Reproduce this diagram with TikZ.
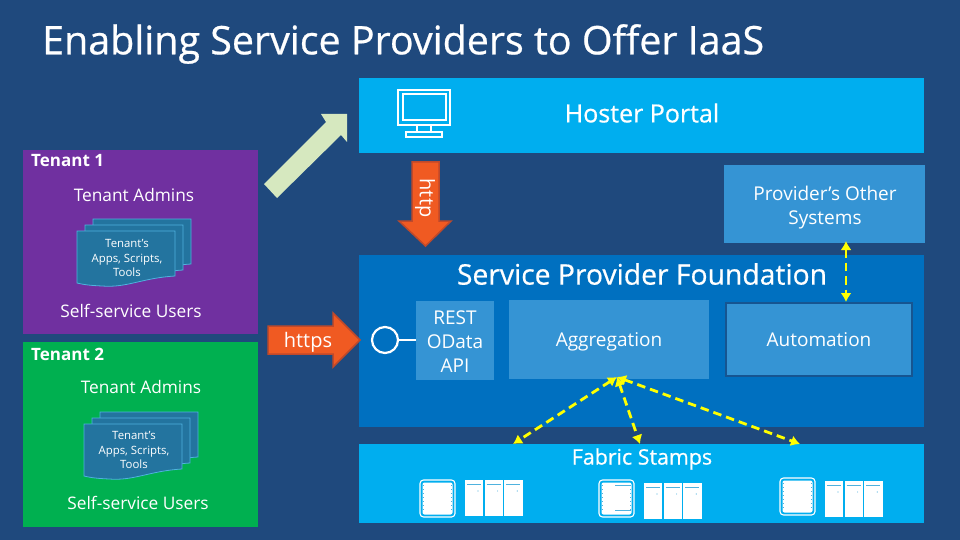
\documentclass[tikz,border=0pt]{standalone}
\usepackage{fontspec}
\setmainfont{Open Sans}
\newfontfamily\headfont[FakeBold=0.6]{Open Sans}
\usetikzlibrary{arrows.meta}

\definecolor{slidebg}{HTML}{1F497D}
\definecolor{skyband}{HTML}{00AEEF}
\definecolor{midband}{HTML}{0070C0}
\definecolor{softbox}{HTML}{3594D4}
\definecolor{purplebox}{HTML}{7030A0}
\definecolor{greenbox}{HTML}{00B050}
\definecolor{docfill}{HTML}{23749F}
\definecolor{docline}{HTML}{4FB2DE}
\definecolor{orangearrow}{HTML}{F05A22}
\definecolor{orangeline}{HTML}{C0492A}
\definecolor{palegreen}{HTML}{D6E8BF}
\definecolor{dashyellow}{HTML}{FFFF00}

\tikzset{
  band/.style={anchor=north west,inner sep=0pt,outer sep=0pt},
  tenanttext/.style={text=white,align=center,inner sep=0pt,font=\fontsize{17.3}{21}\selectfont},
  boxtext/.style={text=white,align=center,inner sep=0pt,font=\fontsize{19}{24}\selectfont},
  smalltext/.style={text=white,align=center,inner sep=0pt,font=\fontsize{11.4}{14.5}\selectfont},
  heading/.style={text=white,inner sep=0pt,font=\headfont\fontsize{25}{30}\selectfont},
  tenanthead/.style={text=white,anchor=west,inner sep=0pt,font=\fontsize{17}{20}\bfseries\selectfont},
  yellowlink/.style={draw=dashyellow,line width=2.8pt,dash pattern=on 8.5pt off 5pt,
    {Latex[length=9pt,width=11pt]}-{Latex[length=9pt,width=11pt]}},
  docpage/.style={fill=docfill,draw=docline,line width=0.8pt},
  blockarrow/.style={draw=orangeline,fill=orangearrow,line width=1.5pt},
  iconline/.style={draw=white,line width=1.3pt}
}

% one sheet of the stacked documents, corner at top left
\newcommand{\docsheet}[2]{
  \begin{scope}[shift={(#1,#2)}]
    \draw[docpage] (0,0) -- (98,0) -- (98,45)
      .. controls (65,47) and (50,57) .. (25,55)
      .. controls (15,54.5) and (8,54) .. (0,52) -- cycle;
  \end{scope}
}

% a rack icon and three server units: x, y of the rack, y of the units
\newcommand{\rackgroup}[3]{
  \begin{scope}[shift={(#1,#2)}]
    \draw[white,line width=1.1pt,rounded corners=3.5pt] (0,0) rectangle (35,37);
    \fill[white,rounded corners=2pt] (2.5,2.5) rectangle (32.5,34.5);
    \draw[docline,line width=0.6pt,dash pattern=on 1pt off 3pt] (3.5,5) -- (3.5,32) (31.5,5) -- (31.5,32);
  \end{scope}
  \foreach \unit in {0,1,2}{
    \fill[white] (#1+45+\unit*19.6,#3) rectangle +(18.4,36);
    \draw[docline,line width=0.8pt] (#1+47+\unit*19.6,#3+4) -- +(14,0);
    \fill[docline] (#1+58+\unit*19.6,#3+11) circle (0.6);
  }
}

\begin{document}
\begin{tikzpicture}[x=1pt,y=-1pt]
  \useasboundingbox (0,0) rectangle (960,540);
  \fill[slidebg] (0,0) rectangle (960,540);

  \node[text=white,anchor=west,inner sep=0pt,font=\headfont\fontsize{39.4}{44}\selectfont] (title)
    at (42,44) {Enabling Service Providers to Offer IaaS};

  % right hand bands
  \node[band,fill=skyband,minimum width=565pt,minimum height=75pt] (hoster) at (359,78) {};
  \node[heading] (hostertext) at (642,113) {Hoster Portal};
  \node[band,fill=softbox,minimum width=201pt,minimum height=78pt] (others) at (724,165) {};
  \node[boxtext] (otherstext) at (825,208) {Provider's Other\\Systems};
  \node[band,fill=midband,minimum width=565pt,minimum height=172pt] (foundation) at (359,255) {};
  \node[heading,font=\headfont\fontsize{28.3}{32}\selectfont] (foundationtext) at (642,274) {Service Provider Foundation};
  \node[band,fill=skyband,minimum width=565pt,minimum height=79pt] (fabric) at (359,444) {};
  \node[heading,font=\headfont\fontsize{21.4}{26}\selectfont] (fabrictext) at (642,459) {Fabric Stamps};

  % foundation parts
  \node[band,fill=softbox,minimum width=78pt,minimum height=79pt] (api) at (416,301) {};
  \node[boxtext] (apitext) at (455,342) {REST\\OData\\API};
  \node[band,fill=softbox,minimum width=200pt,minimum height=79pt] (aggregation) at (509,300) {};
  \node[boxtext] (aggregationtext) at (609,342) {Aggregation};
  \node[band,fill=softbox,draw=slidebg!70!midband,line width=1.5pt,minimum width=186pt,minimum height=73pt] (automation) at (726,303) {};
  \node[boxtext] (automationtext) at (819,340) {Automation};
  \node[circle,draw=white,line width=2.2pt,minimum size=26pt,inner sep=0pt] (socket) at (385,340) {};
  \draw[white,line width=2.2pt] (socket) -- (api.west |- socket);

  % tenants
  \node[band,fill=purplebox,minimum width=235pt,minimum height=184pt] (tenantone) at (23,150) {};
  \node[tenanthead] (tenantonehead) at (31,161) {Tenant 1};
  \node[tenanttext] (adminsone) at (134,195) {Tenant Admins};
  \docsheet{93}{219}
  \docsheet{85}{225}
  \docsheet{77}{231}
  \node[smalltext] (appsone) at (127,258) {Tenant's\\Apps, Scripts,\\Tools};
  \node[tenanttext] (usersone) at (131,311) {Self-service Users};

  \node[band,fill=greenbox,minimum width=235pt,minimum height=185pt] (tenanttwo) at (23,342) {};
  \node[tenanthead] (tenanttwohead) at (31,354) {Tenant 2};
  \node[tenanttext] (adminstwo) at (141,387) {Tenant Admins};
  \docsheet{100}{412}
  \docsheet{92}{418}
  \docsheet{84}{424}
  \node[smalltext] (appstwo) at (134,450) {Tenant's\\Apps, Scripts,\\Tools};
  \node[tenanttext] (userstwo) at (138,503) {Self-service Users};

  % block arrows
  \fill[palegreen] (264,184) -- (326,122) -- (321,114) -- (347,114) -- (347,142)
    -- (341,135) -- (277,198) -- cycle;
  \draw[blockarrow] (412,162) -- (439,162) -- (439,221)
    -- (451,221) -- (425.5,246) -- (399,221) -- (412,221) -- cycle;
  \node[text=white,rotate=-90,inner sep=0pt,font=\fontsize{20}{24}\selectfont] (httplabel) at (425,198) {http};
  \draw[blockarrow] (268,326) -- (333,326) -- (333,313)
    -- (360,340) -- (333,367) -- (333,354) -- (268,354) -- cycle;
  \node[text=white,inner sep=0pt,font=\fontsize{20}{24}\selectfont] (httpslabel) at (308,342) {https};

  % monitor
  \draw[iconline] (398,90) rectangle (450,125);
  \draw[iconline] (403,94) rectangle (446,120);
  \draw[iconline] (417,125) -- (417,132) (431,125) -- (431,132);
  \draw[iconline] (406,132) rectangle (442,137);

  % fabric racks
  \rackgroup{420}{480}{480}
  \rackgroup{599}{480}{483}
  \rackgroup{780}{478}{481}
  \draw[docline,line width=0.8pt] (615,485) -- (631,485) (615,510) -- (631,510);

  % links
  \coordinate (stampa) at (513,444);
  \coordinate (stampb) at (640,444);
  \coordinate (stampc) at (800,444);
  \coordinate (aggbottom) at (617,377);
  \coordinate (othersend) at (846,241);
  \coordinate (autoend) at (846,302);
  \draw[yellowlink] (aggbottom) -- (stampa);
  \draw[yellowlink] (aggbottom) -- (stampb);
  \draw[yellowlink] (aggbottom) -- (stampc);
  \draw[yellowlink] (othersend) -- (autoend);
\end{tikzpicture}
\end{document}
